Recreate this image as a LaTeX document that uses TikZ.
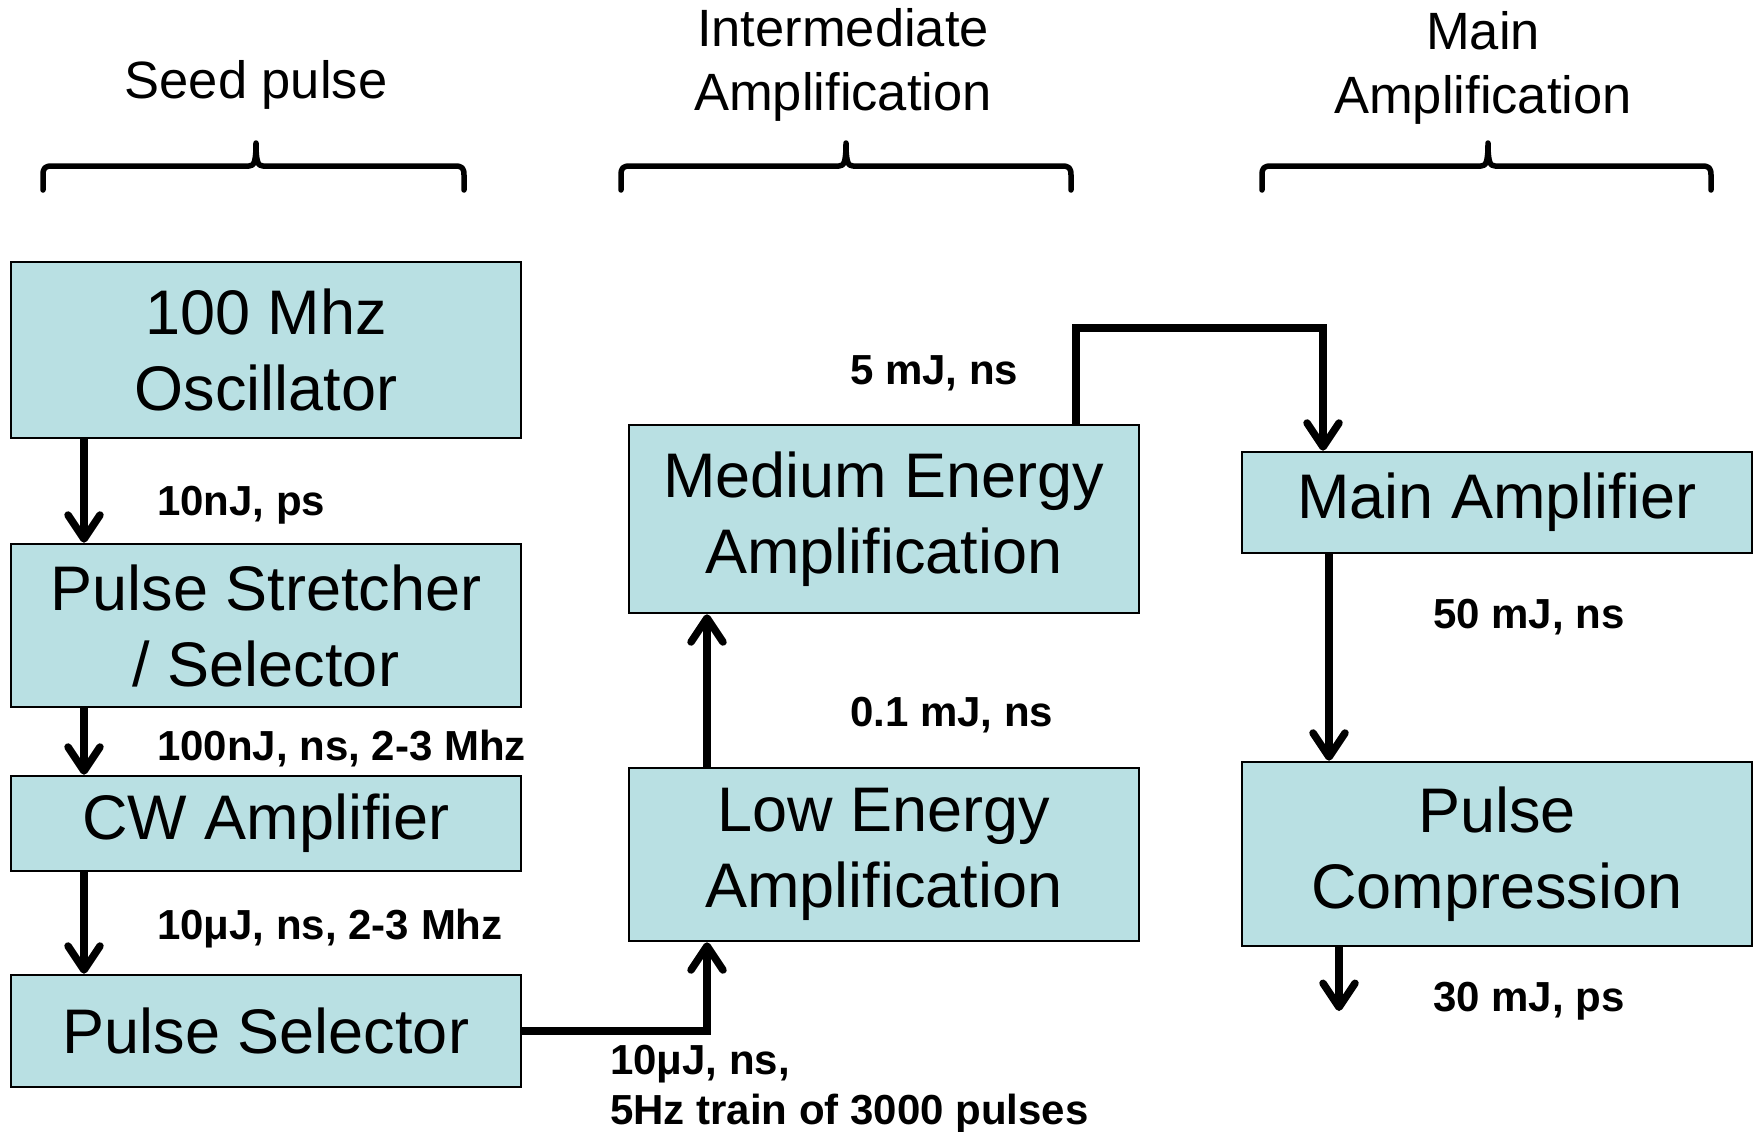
\documentclass[tikz,border=0pt]{standalone}
\usepackage{fontspec}
\setmainfont{Liberation Sans}
\usetikzlibrary{arrows.meta}
\definecolor{boxfill}{RGB}{185,224,227}
\begin{document}
\begin{tikzpicture}[x=1pt,y=-1pt,
  blk/.style={draw=black, line width=2.5pt, fill=boxfill, minimum width=510pt,
    align=center, inner sep=0pt, font=\fontsize{63}{76}\selectfont},
  lbl/.style={inner sep=0pt, align=left, font=\fontsize{42}{50}\selectfont\bfseries},
  hdr/.style={align=center, inner sep=0pt, font=\fontsize{52.5}{64}\selectfont},
  flow/.style={line width=7.5pt, -{Straight Barb[length=24pt,width=32pt,round]}},
  brc/.style={line width=5.5pt, line cap=round, line join=round}]
\useasboundingbox (0,0) rectangle (1754,1132);

% headers
\node[hdr, anchor=base] (hseed) at (256,99) {Seed pulse};
\node[hdr] (hinter) at (843,65) {Intermediate\\Amplification};
\node[hdr] (hmain) at (1483,68) {Main\\Amplification};

% braces
\foreach \L/\T/\R in {43/256/464, 621/846/1071, 1262/1488/1711}{
  \draw[brc] (\L,190) -- (\L,175) .. controls (\L,168) and (\L+2,166) .. (\L+9,166)
    -- (\T-7,166) .. controls (\T-2,166) and (\T,162) .. (\T,143)
    .. controls (\T,162) and (\T+2,166) .. (\T+7,166)
    -- (\R-9,166) .. controls (\R-2,166) and (\R,168) .. (\R,175) -- (\R,190);
}

% boxes
\node[blk, minimum height=176pt] (osc) at (266,350) {100 Mhz\\Oscillator};
\node[blk, minimum height=163pt] (str) at (266,625.5) {Pulse Stretcher\\/ Selector};
\node[blk, minimum height=95pt] (cw) at (266,823.5) {CW Amplifier};
\node[blk, minimum height=112pt] (psel) at (266,1031) {Pulse Selector};
\node[blk, minimum height=188pt] (med) at (884,519) {Medium Energy\\Amplification};
\node[blk, minimum height=173pt] (low) at (884,854.5) {Low Energy\\Amplification};
\node[blk, minimum height=101pt] (main) at (1497,502.5) {Main Amplifier};
\node[blk, minimum height=184pt] (comp) at (1497,854) {Pulse\\Compression};

% helper coordinates
\coordinate (ax) at (84,0);
\coordinate (lx) at (707,0);
\coordinate (mx) at (1076,328);
\coordinate (nx) at (1323,328);
\coordinate (px) at (1329,0);
\coordinate (out) at (1339,1011);

% connectors
\draw[flow] (ax |- osc.south) -- (ax |- str.north);
\draw[flow] (ax |- str.south) -- (ax |- cw.north);
\draw[flow] (ax |- cw.south) -- (ax |- psel.north);
\draw[flow] (psel.east) -| (lx |- low.south);
\draw[flow] (lx |- low.north) -- (lx |- med.south);
\draw[flow] (mx |- med.north) -- (mx) -- (nx) -- (nx |- main.north);
\draw[flow] (px |- main.south) -- (px |- comp.north);
\draw[flow] (out |- comp.south) -- (out);

% labels
\node[lbl, anchor=base west] (l1) at (157,515) {10nJ, ps};
\node[lbl, anchor=base west] (l2) at (157,760) {100nJ, ns, 2-3 Mhz};
\node[lbl, anchor=base west] (l3) at (157,939) {10μJ, ns, 2-3 Mhz};
\node[lbl, anchor=north west] (l4) at (610,1045) {10μJ, ns,\\5Hz train of 3000 pulses};
\node[lbl, anchor=base west] (l5) at (850,726) {0.1 mJ, ns};
\node[lbl, anchor=base west] (l6) at (850,384) {5 mJ, ns};
\node[lbl, anchor=base west] (l7) at (1433,628) {50 mJ, ns};
\node[lbl, anchor=base west] (l8) at (1433,1011) {30 mJ, ps};
\end{tikzpicture}
\end{document}
